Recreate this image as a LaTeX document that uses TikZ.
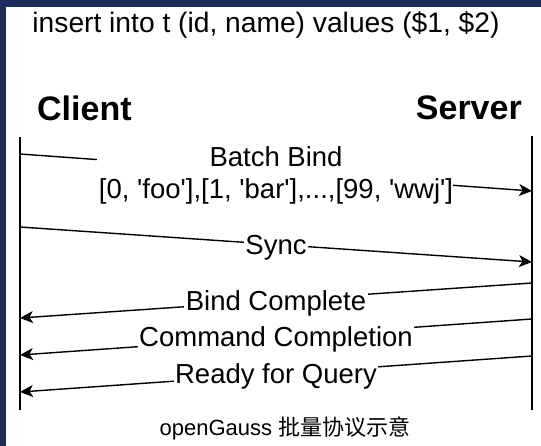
\documentclass[tikz,border=0pt]{standalone}
\usepackage{fontspec}
\setmainfont{Liberation Sans}
\newfontfamily\cjkfont{Noto Sans CJK SC}
\usetikzlibrary{arrows.meta,calc}
\definecolor{frame}{HTML}{1F2D5E}
\newcommand\sq{\textquotesingle}
\begin{document}
\begin{tikzpicture}[x=1pt,y=-1pt,
  lifeline/.style={line width=1.8pt},
  msgline/.style={line width=1.4pt},
  msg/.style={msgline,-{Stealth[length=13pt,width=12pt,inset=3.5pt]}},
  lbl/.style={fill=white,inner sep=1.5pt,font=\fontsize{27.5}{31.5}\selectfont,
    text height=20pt,text depth=0pt},
  party/.style={font=\bfseries\fontsize{34}{40}\selectfont,inner sep=0pt}]
  % frame and canvas
  \fill[frame] (0,0) rectangle (541,446);
  \fill[white] (6,7) rectangle (541,446);
  \useasboundingbox (0,0) rectangle (541,446);

  % headings
  \node[font=\fontsize{28.2}{34}\selectfont,anchor=base,inner sep=0pt] (title) at (266,33)
    {insert into t (id, name) values (\$1, \$2)};
  \node[party,anchor=base west] (client) at (37,121) {Client};
  \node[party,anchor=base east] (server) at (522,120) {Server};

  % lifelines
  \coordinate (cl-top) at (20,137);
  \coordinate (cl-bot) at (20,410);
  \coordinate (sv-top) at (532,136);
  \coordinate (sv-bot) at (532,410);
  \draw[lifeline] (cl-top) -- (cl-bot);
  \draw[lifeline] (sv-top) -- (sv-bot);

  % message end points
  \coordinate (bb-c) at (20,154);  \coordinate (bb-s) at (532,191);
  \coordinate (sy-c) at (20,227);  \coordinate (sy-s) at (532,262);
  \coordinate (bc-s) at (532,283); \coordinate (bc-c) at (20,318);
  \coordinate (cc-s) at (532,319); \coordinate (cc-c) at (20,355);
  \coordinate (rq-s) at (532,356); \coordinate (rq-c) at (20,392);

  % Batch Bind (two-line label, line split around it)
  \node[font=\fontsize{27.5}{31.5}\selectfont,align=center,inner sep=0pt,text depth=0pt]
    (bbl) at ($(bb-c)!0.5!(bb-s)$)
    {Batch Bind\\\relax[0, \sq foo\sq],[1, \sq bar\sq],...,[99, \sq wwj\sq]};
  \draw[msgline] (bb-c) -- ($(bb-c)!0.15!(bb-s)$);
  \draw[msg] ($(bb-c)!0.846!(bb-s)$) -- (bb-s);

  % remaining messages
  \draw[msg] (sy-c) -- node[lbl] (syl) {Sync} (sy-s);
  \draw[msg] (bc-s) -- node[lbl] (bcl) {Bind Complete} (bc-c);
  \draw[msg] (cc-s) -- node[lbl] (ccl) {Command Completion} (cc-c);
  \draw[msg] (rq-s) -- node[lbl] (rql) {Ready for Query} (rq-c);

  % caption
  \node[font=\fontsize{22}{27}\selectfont,anchor=base,inner sep=0pt] (caption) at (285,435)
    {openGauss {\cjkfont 批量协议示意}};
\end{tikzpicture}
\end{document}
